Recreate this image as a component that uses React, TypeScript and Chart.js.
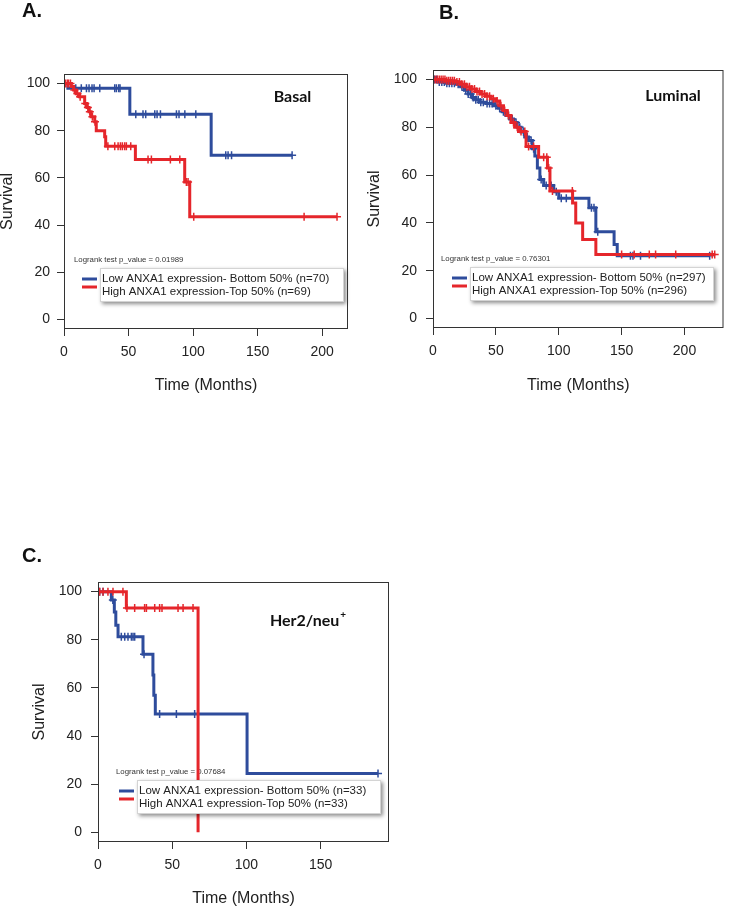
import React, { useEffect, useRef } from 'react';
import { Chart, registerables } from 'chart.js';
Chart.register(...registerables);
Chart.defaults.font.family = '"Liberation Sans", Arial, sans-serif';

// ---------------- Shared labels ----------------
const X_TITLE = 'Time (Months)';
const Y_TITLE = 'Survival';
const SURV_TICK_STEP = 20;
const TIME_TICK_STEP = 50;

// ---------------- Panel A: Basal ----------------
const basalLowTimes = [0, 3, 51, 114, 176.7];
const basalLowSurv = [100, 98, 87, 69.6, 69.6];
const basalLowCensor = [9.1, 13.4, 17.4, 19.4, 21.7, 23.3, 27.7, 39.3, 40.6, 42.4, 43.4, 55.6, 61.2, 63.3, 70.3, 72.1, 74.7, 87.1, 89.1, 93.6, 102.1, 125.3, 127.1, 129.8, 176.7];
const basalHighTimes = [0, 5.7, 7.5, 9.5, 12, 16, 17.8, 19.4, 21, 23.8, 25, 31.5, 32.3, 55.3, 93.5, 97.4, 211.5];
const basalHighSurv = [100, 98.7, 97.2, 95.6, 94.4, 91.5, 89.8, 88, 85.9, 83.8, 80, 77.4, 73.4, 67.8, 58.3, 43.5, 43.5];
const basalHighCensor = [1, 2.5, 3.5, 5, 8, 10.5, 12.5, 16.5, 18.5, 20, 22, 24, 34, 39.3, 41.9, 43.7, 45.2, 47, 48.3, 51.7, 65.1, 67.7, 82.4, 89.7, 94.8, 96.1, 100.5, 186, 211.5];
const basalLegend = ['Low ANXA1 expression- Bottom 50% (n=70)', 'High ANXA1 expression-Top 50% (n=69)'];
const basalP = 'Logrank test p_value = 0.01989';

// ---------------- Panel B: Luminal ----------------
const lumLowTimes = [0, 4, 10, 18, 22, 25, 28, 31, 34, 37, 42, 48, 52, 55, 58, 61, 64, 67, 70, 73, 76, 79, 81, 83, 85, 88, 96, 100, 124, 129.5, 144, 146.5, 220];
const lumLowSurv = [100, 99, 98.5, 98, 97, 95.5, 94, 92.5, 91.5, 90.5, 90, 89, 88, 86.5, 85, 83.5, 82, 80, 78, 76, 74.5, 71, 68, 63, 58.2, 55.7, 53, 50.3, 46.3, 36.3, 31, 26.2, 26.2];
const lumLowCensor = [1, 3, 5, 7, 9, 11, 13, 15, 17, 20, 23, 26, 28, 30, 32, 34, 36, 38, 40, 43, 45, 47, 50, 53, 56, 60, 63, 66, 69, 72, 75, 78, 80, 86, 90, 94, 98, 102, 106, 126, 128, 131, 157, 159, 165, 220];
const lumHighTimes = [0, 10, 18, 22, 26, 30, 34, 38, 42, 46, 50, 53, 56, 59, 62, 65, 68, 74, 84, 91, 93, 111, 113.5, 119, 129.5, 224];
const lumHighSurv = [100, 99.5, 99, 98, 97, 96, 95, 94, 93, 92, 91, 89, 87, 85, 82, 80, 78.3, 72, 67.5, 63, 53.3, 48.3, 40, 33, 26.8, 26.8];
const lumHighCensor = [0.5, 2, 3.5, 5, 6.5, 8, 9.5, 11, 12.5, 14, 15.5, 17, 19, 21, 23, 25, 27, 29, 31, 33, 35, 37, 39, 41, 43, 45, 48, 51, 54, 57, 60, 64, 67, 70, 73, 76, 80, 88, 90.5, 92, 95, 110.8, 150, 160, 172, 177, 193, 222, 224];
const lumLegend = ['Low ANXA1 expression- Bottom 50% (n=297)', 'High ANXA1 expression-Top 50% (n=296)'];
const lumP = 'Logrank test p_value = 0.76301';

// ---------------- Panel C: Her2/neu+ ----------------
const herLowTimes = [0, 9, 11, 12, 13.5, 30.3, 37, 37.6, 38.6, 100.4, 188.6];
const herLowSurv = [100, 96.5, 91.5, 86, 81.3, 74, 65.4, 57, 49.2, 24.5, 24.5];
const herLowCensor = [1.1, 3.4, 10, 15.7, 18, 20.2, 22.5, 23.6, 24.7, 31, 41.5, 52.8, 65.1, 188.6];
const herHighTimes = [0, 19.1, 67.4];
const herHighSurv = [100, 93.2, 0];
const herHighCensor = [1.1, 3.4, 6.7, 10.1, 16.8, 19.5, 24.7, 31.4, 32.6, 38.2, 41.5, 43.1, 53.9, 57.3, 64];
const herLegend = ['Low ANXA1 expression- Bottom 50% (n=33)', 'High ANXA1 expression-Top 50% (n=33)'];
const herP = 'Logrank test p_value = 0.07684';

const BLUE = '#2E4C9C';
const RED = '#E5262B';
const FONT = '"Liberation Sans", Arial, sans-serif';

type PanelCfg = {
  key: string;
  letter: string;
  subtype: string;
  sup?: string;
  left: number; top: number; width: number; height: number;
  pad: { left: number; top: number; right: number; bottom: number };
  yAxisW: number; xAxisH: number; yTitlePad: number; yTickPad: number;
  xMax: number;
  lowT: number[]; lowS: number[]; lowC: number[];
  highT: number[]; highS: number[]; highC: number[];
  legend: string[]; pText: string;
  letterPos: [number, number];
  subtypePos: [number, number];
  legendPos: [number, number];
  pPos: [number, number];
};

function survAt(times: number[], surv: number[], t: number) {
  let s = surv[0];
  for (let i = 0; i < times.length; i++) if (times[i] <= t) s = surv[i];
  return s;
}

const panels: PanelCfg[] = [
  {
    key: 'A', letter: 'A.', subtype: 'Basal',
    left: 0, top: 0, width: 360, height: 400,
    pad: { left: 0, top: 74, right: 12, bottom: 6 },
    yAxisW: 64, xAxisH: 65, yTitlePad: 0, yTickPad: 7, xMax: 220,
    lowT: basalLowTimes, lowS: basalLowSurv, lowC: basalLowCensor,
    highT: basalHighTimes, highS: basalHighSurv, highC: basalHighCensor,
    legend: basalLegend, pText: basalP,
    letterPos: [22, 17], subtypePos: [292.5, 97], legendPos: [36, 194], pPos: [10, 186],
  },
  {
    key: 'B', letter: 'B.', subtype: 'Luminal',
    left: 365, top: 0, width: 364, height: 400,
    pad: { left: 0, top: 70, right: 1, bottom: 6 },
    yAxisW: 68, xAxisH: 66, yTitlePad: 2, yTickPad: 9, xMax: 231,
    lowT: lumLowTimes, lowS: lumLowSurv, lowC: lumLowCensor,
    highT: lumHighTimes, highS: lumHighSurv, highC: lumHighCensor,
    legend: lumLegend, pText: lumP,
    letterPos: [74, 19], subtypePos: [308, 96], legendPos: [37, 197], pPos: [8, 189],
  },
  {
    key: 'C', letter: 'C.', subtype: 'Her2/neu', sup: '+',
    left: 0, top: 540, width: 400, height: 369,
    pad: { left: 0, top: 42, right: 11, bottom: 2 },
    yAxisW: 98, xAxisH: 65, yTitlePad: 32, yTickPad: 9, xMax: 196,
    lowT: herLowTimes, lowS: herLowSurv, lowC: herLowCensor,
    highT: herHighTimes, highS: herHighSurv, highC: herHighCensor,
    legend: herLegend, pText: herP,
    letterPos: [22, 22], subtypePos: [308, 81], legendPos: [39, 198], pPos: [18, 190],
  },
];

function decorPlugin(p: PanelCfg) {
  return {
    id: 'decor' + p.key,
    beforeDatasetsDraw(chart: any) {
      const { ctx, chartArea: a } = chart;
      ctx.save();
      ctx.font = `7.8px ${FONT}`;
      ctx.fillStyle = '#333';
      ctx.textAlign = 'left';
      ctx.textBaseline = 'middle';
      ctx.fillText(p.pText, a.left + p.pPos[0], a.top + p.pPos[1]);
      ctx.restore();
    },
    afterDatasetsDraw(chart: any) {
      const { ctx, chartArea: a } = chart;
      const lx = a.left + p.legendPos[0];
      const ly = a.top + p.legendPos[1];
      const w = 244, h = 34;
      ctx.save();
      ctx.shadowColor = 'rgba(0,0,0,0.45)';
      ctx.shadowBlur = 4;
      ctx.shadowOffsetX = 2;
      ctx.shadowOffsetY = 2;
      ctx.fillStyle = '#fff';
      ctx.fillRect(lx, ly, w, h);
      ctx.restore();
      ctx.save();
      ctx.strokeStyle = '#d4d4d4';
      ctx.lineWidth = 1;
      ctx.strokeRect(lx + 0.5, ly + 0.5, w - 1, h - 1);
      ctx.lineWidth = 3;
      ctx.strokeStyle = BLUE;
      ctx.beginPath(); ctx.moveTo(lx - 18, ly + 11); ctx.lineTo(lx - 3, ly + 11); ctx.stroke();
      ctx.strokeStyle = RED;
      ctx.beginPath(); ctx.moveTo(lx - 18, ly + 19); ctx.lineTo(lx - 3, ly + 19); ctx.stroke();
      ctx.font = `11.5px ${FONT}`;
      ctx.fillStyle = '#222';
      ctx.textAlign = 'left';
      ctx.textBaseline = 'middle';
      ctx.fillText(p.legend[0], lx + 2, ly + 11);
      ctx.fillText(p.legend[1], lx + 2, ly + 24);
      ctx.restore();
    },
    afterDraw(chart: any) {
      const { ctx, chartArea: a } = chart;
      ctx.save();
      ctx.strokeStyle = '#333';
      ctx.lineWidth = 1;
      ctx.strokeRect(a.left + 0.5, a.top + 0.5, a.right - a.left - 1, a.bottom - a.top - 1);
      ctx.fillStyle = '#111';
      ctx.font = `bold 20px ${FONT}`;
      ctx.textAlign = 'left';
      ctx.textBaseline = 'alphabetic';
      ctx.fillText(p.letter, p.letterPos[0], p.letterPos[1]);
      ctx.font = `bold 16px Lato, "Open Sans", sans-serif`;
      ctx.textBaseline = 'middle';
      const mainW = ctx.measureText(p.subtype).width;
      let supW = 0;
      if (p.sup) {
        ctx.font = `bold 10px Lato, "Open Sans", sans-serif`;
        supW = ctx.measureText(p.sup).width + 1;
      }
      const x0 = p.subtypePos[0] - (mainW + supW) / 2;
      ctx.font = `bold 16px Lato, "Open Sans", sans-serif`;
      ctx.fillText(p.subtype, x0, p.subtypePos[1]);
      if (p.sup) {
        ctx.font = `bold 10px Lato, "Open Sans", sans-serif`;
        ctx.fillText(p.sup, x0 + mainW + 1, p.subtypePos[1] - 6);
      }
      ctx.restore();
    },
  };
}

function Panel({ p }: { p: PanelCfg }) {
  const ref = useRef<HTMLCanvasElement | null>(null);
  useEffect(() => {
    if (!ref.current) return;
    const line = (t: number[], s: number[]) => t.map((x, i) => ({ x, y: s[i] }));
    const marks = (c: number[], t: number[], s: number[]) => c.map((x) => ({ x, y: survAt(t, s, x) }));
    const grid = { display: true, drawOnChartArea: false, drawTicks: true, tickLength: 7, color: '#333', lineWidth: 1 };
    const chart = new Chart(ref.current, {
      type: 'line',
      data: {
        datasets: [
          { label: p.legend[0], data: line(p.lowT, p.lowS), borderColor: BLUE, borderWidth: 3, stepped: 'before', pointRadius: 0, fill: false, order: 4 } as any,
          { label: 'low censored', data: marks(p.lowC, p.lowT, p.lowS), borderColor: BLUE, backgroundColor: BLUE, showLine: false, pointStyle: 'cross', pointRadius: 4, pointBorderWidth: 1.5, order: 3 } as any,
          { label: p.legend[1], data: line(p.highT, p.highS), borderColor: RED, borderWidth: 3, stepped: 'before', pointRadius: 0, fill: false, order: 2 } as any,
          { label: 'high censored', data: marks(p.highC, p.highT, p.highS), borderColor: RED, backgroundColor: RED, showLine: false, pointStyle: 'cross', pointRadius: 4, pointBorderWidth: 1.5, order: 1 } as any,
        ],
      },
      options: {
        responsive: false,
        animation: false,
        events: [],
        layout: { padding: p.pad },
        plugins: { legend: { display: false }, tooltip: { enabled: false } },
        scales: {
          x: {
            type: 'linear', min: 0, max: p.xMax,
            ticks: { stepSize: TIME_TICK_STEP, includeBounds: false, padding: 8, color: '#222', font: { size: 14 }, maxRotation: 0, autoSkip: false },
            grid, border: { display: false },
            title: { display: true, text: X_TITLE, color: '#222', font: { size: 16, lineHeight: 1 }, padding: 0 },
            afterFit: (s: any) => { s.height = p.xAxisH; },
          },
          y: {
            type: 'linear', min: -4, max: 104,
            ticks: { stepSize: SURV_TICK_STEP, includeBounds: false, padding: p.yTickPad, color: '#222', font: { size: 14 } },
            grid, border: { display: false },
            title: { display: true, text: Y_TITLE, color: '#222', font: { size: 16, lineHeight: 1 }, padding: { top: p.yTitlePad, bottom: 0 } },
            afterFit: (s: any) => { s.width = p.yAxisW; },
          },
        },
      } as any,
      plugins: [decorPlugin(p)],
    });
    return () => chart.destroy();
  }, [p]);
  return (
    <canvas
      ref={ref}
      width={p.width}
      height={p.height}
      style={{ position: 'absolute', left: p.left, top: p.top, width: p.width, height: p.height }}
    />
  );
}

export default function App() {
  return (
    <div style={{ position: 'absolute', left: 0, top: 0, width: 729, height: 909, background: '#fff', overflow: 'hidden' }}>
      {panels.map((p) => (
        <Panel key={p.key} p={p} />
      ))}
    </div>
  );
}
